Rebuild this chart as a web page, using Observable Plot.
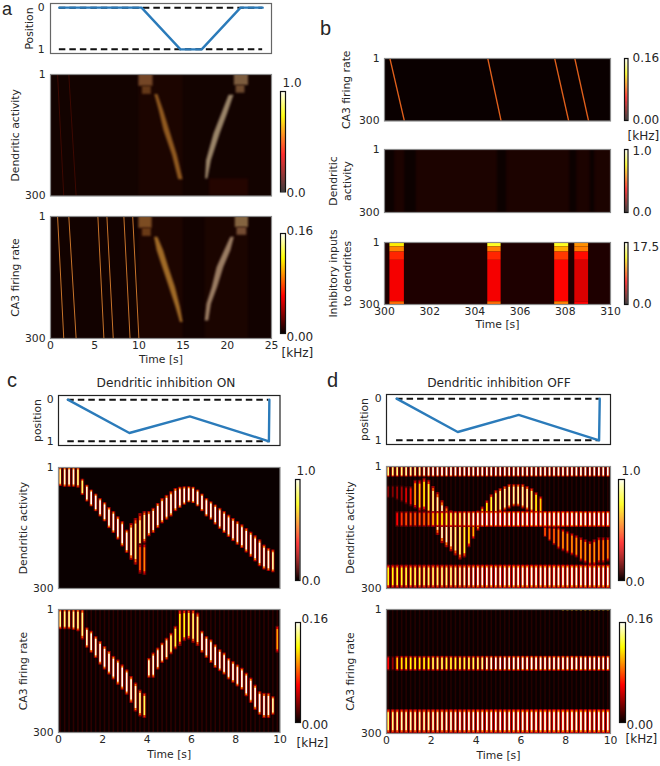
<!DOCTYPE html>
<html><head><meta charset="utf-8">
<script src="https://cdn.jsdelivr.net/npm/d3@7"></script>
<script src="https://cdn.jsdelivr.net/npm/@observablehq/plot@0.6"></script>
<style>
html,body{margin:0;padding:0;background:#fff}
#root{position:relative;width:660px;height:766px;overflow:hidden;font-family:"DejaVu Sans",sans-serif;color:#262626}
#root svg{position:absolute;background:transparent}
.heat{filter:blur(.7px)}
.soft{filter:blur(1.1px)}
.lbl{position:absolute;white-space:nowrap}
</style></head><body><div id="root"></div>
<script>
// ---------- panel a ----------
const aPosT=[1,10.3,14.7,17.1,21.5,24], aPosY=[0,0,1,1,0,0];
const aSweepT0=[0.8,2.07,5.36,6.38,8.3,9.3], aSweepT1=[1.5,2.9,6.04,7.1,9.0,10.0];
const aDescN=[52,85,126,175,224,261];
const aCa3DescL=[11.77,12.07,12.7,13.46,14.2,14.7], aCa3DescR=[12.15,12.8,13.38,14.14,14.7,15.0];
const aAscN=[257,216,175,126,85,52];
const aCa3AscL=[17.5,17.7,18.3,18.85,19.7,20.4], aCa3AscR=[17.9,18.2,18.9,19.6,20.4,20.8];
const aDenDescN=[50,90,140,200,260];
const aDenDescL=[11.8,12.3,12.85,13.8,14.5], aDenDescR=[12.15,12.8,13.5,14.35,15.0];
const aDenAscN=[258,213,147,97,52];
const aDenAscL=[17.55,17.65,18.5,19.4,20.2], aDenAscR=[17.8,18.2,19.2,20.05,20.75];
// ---------- panel b ----------
const bSweepT0=[300.24,304.57,307.53,308.42], bSweepT1=[300.88,305.16,308.15,309.03];
const bDenDimT0=[300,300.9,305,308.2,309.1], bDenDimT1=[300.45,301.4,305.4,308.5,309.3];
const inhibN0=[1,22,47,87,287], inhibN1=[22,47,87,287,300];
const inhibLevels=[[.72,.56,.42,.35,.52],[.78,.55,.42,.35,.52],[.78,.62,.45,.37,.55],[.58,.55,.38,.31,.36]];
// ---------- theta cycles, panels c and d ----------
const cycleT=[.1,.3,.5,.7,.9,1.1,1.3,1.5,1.7,1.9,2.1,2.3,2.5,2.7,2.9,3.1,3.3,3.5,3.7,3.9,4.1,4.3,4.5,4.7,4.9,5.1,5.3,5.5,5.7,5.9,6.1,6.3,6.5,6.7,6.9,7.1,7.3,7.5,7.7,7.9,8.1,8.3,8.5,8.7,8.9,9.1,9.3,9.5,9.7,9.9];
const cPosT=[.42,3.2,5.93,9.5,9.52], cPosY=[0,.8,.4,1,0];
const dPosT=[.45,3.18,5.9,9.49,9.52], dPosY=[0,.8,.39,1,0];
const cDenTop=[1,1,1,1,1,30,45,57,67,78,88,100,110,123,135,156,140,127,115,110,110,102,90,78,70,61,53,50,49,49,50,57,67,78,86,94,102,110,119,127,135,143,152,161,170,180,193,201,205,null];
const cDenBot=[48,50,50,50,52,70,86,98,110,123,135,152,164,180,197,213,230,242,262,188,172,164,152,140,131,123,110,102,94,88,90,98,110,123,131,143,154,164,174,184,193,201,212,223,234,246,254,258,261,null];
const cDenLev=[.72,.78,.8,.8,.72,.7,.8,.85,.85,.85,.85,.85,.85,.85,.85,.85,.78,.72,.72,.75,.8,.8,.85,.85,.85,.85,.88,.9,.9,.92,.92,.9,.88,.88,.85,.85,.85,.85,.85,.85,.85,.85,.85,.85,.85,.85,.85,.8,.75,0];
const cDenExtraT=[3.7,3.9], cDenExtraTop=[190,190], cDenExtraBot=[265,268], cDenExtraLev=[.42,.46];
const cCa3Top=[1,1,1,1,1,1,46,54,67,79,91,103,115,124,136,148,164,180,197,205,120,107,95,83,71,59,42,2,2,2,2,10,54,67,75,87,99,107,120,128,136,144,156,168,185,201,205,205,213,42];
const cCa3Bot=[50,50,50,52,55,75,95,107,120,136,148,160,172,185,197,209,229,250,262,266,168,168,148,132,124,111,99,91,79,75,83,91,107,120,132,144,152,160,172,180,189,197,213,229,246,258,266,266,258,107];
const cCa3Lev=[.72,.72,.74,.74,.72,.72,.78,.8,.8,.82,.82,.85,.85,.85,.82,.82,.8,.78,.72,.68,.78,.8,.8,.8,.78,.7,.66,.6,.62,.66,.7,.72,.82,.85,.85,.85,.85,.85,.85,.85,.85,.85,.85,.85,.85,.85,.82,.8,.75,.5];
const dDenTopBand=[.72,.72,.72,.72,.75,.75,.75,.75,.8,.8,.82,.82,.85,.85,.85,.85,.85,.85,.85,.85,.85,.85,.85,.85,.85,.85,.85,.85,.85,.85,.85,.85,.85,.85,.85,.85,.85,.85,.85,.85,.82,.82,.82,.82,.82,.82,.82,.82,.82,.82];
const dDenMidBand=[0,0,.3,.36,.4,.4,.4,.42,.42,.45,.55,.6,.62,.65,.68,.7,.7,.75,.75,.8,.8,.82,.85,.85,.85,.88,.88,.88,.9,.9,.9,.9,.9,.9,.9,.9,.9,.9,.9,.9,.88,.88,.88,.88,.88,.85,.85,.85,.85,.85];
const dDenLowBand=[.62,.62,.64,.64,.66,.66,.68,.68,.7,.7,.7,.7,.72,.72,.72,.74,.76,.78,.8,.82,.85,.85,.88,.88,.88,.9,.9,.9,.9,.9,.9,.9,.9,.9,.9,.9,.9,.9,.9,.9,.9,.9,.9,.9,.9,.9,.9,.9,.9,.9];
const dDenMoveTop=[48,48,48,48,50,50,35,35,30,35,50,65,85,100,110,120,130,140,125,125,110,100,85,70,60,55,50,45,45,45,45,50,55,65,75,150,150,150,150,155,160,165,170,175,180,185,180,175,175,175];
const dDenMoveBot=[80,80,85,90,95,100,105,112,110,120,150,170,190,200,210,220,230,225,200,180,160,150,140,130,125,115,110,105,100,100,105,110,115,120,125,175,185,195,205,210,215,220,225,235,240,245,245,240,240,235];
const dDenMoveLev=[.15,.15,.18,.2,.26,.32,.5,.55,.6,.65,.72,.75,.78,.78,.75,.72,.7,.65,.58,.52,.52,.55,.6,.65,.7,.72,.75,.75,.75,.75,.75,.75,.7,.62,.55,.4,.4,.42,.45,.48,.48,.48,.48,.48,.48,.48,.48,.45,.45,.45];
const dCa3MidBand=[.3,.18,.55,.58,.6,.62,.62,.6,.62,.62,.68,.7,.68,.66,.65,.65,.66,.66,.68,.68,.7,.72,.78,.8,.82,.84,.85,.87,.88,.88,.9,.9,.9,.9,.9,.9,.9,.9,.9,.9,.9,.9,.9,.9,.9,.9,.9,.9,.9,.9];
const dCa3LowBand=[.7,.72,.74,.76,.76,.76,.76,.76,.76,.76,.78,.78,.78,.8,.8,.8,.82,.82,.84,.84,.86,.86,.88,.88,.88,.88,.88,.88,.9,.9,.9,.9,.9,.9,.92,.92,.92,.92,.92,.92,.92,.92,.92,.92,.92,.92,.92,.92,.92,.92];
const dCa3DotT=[7.9,8.1,8.3,8.5,8.7,8.9,9.1,9.3,9.5,9.7,9.9];

// ---------- text and scale labels ----------
const heatStops=[0,.365,.746,1], heatColors=["#0a0000","#ff0000","#ffff00","#ffffff"];
const font='"DejaVu Sans",sans-serif', ink="#262626";
const root=document.getElementById("root");
const GL=60,GR=30,GT=6,GB=36;
const colorOpt={type:"linear",domain:heatStops,range:heatColors,interpolate:"rgb",clamp:true};

function panel(L,T,R,B,xd,yd,marks,o={}){
  const w=R-L+GL+GR,h=B-T+GT+GB;
  const svg=Plot.plot({width:w,height:h,marginLeft:GL,marginRight:GR,marginTop:GT,marginBottom:GB,
    x:{domain:xd,axis:null},y:{domain:yd,axis:null},color:colorOpt,
    style:{background:"transparent",fontFamily:font,fontSize:"10.8px",color:ink,overflow:"visible"},
    marks:[...marks,
      Plot.frame({stroke:o.frame||"#8a8a8a",strokeWidth:1.2}),
      Plot.axisY(o.yt||[1,300],{tickSize:0,tickPadding:o.tp??5,label:null}),
      o.xt?Plot.axisX(o.xt,{tickSize:0,tickPadding:o.xp??3,label:null}):null,
      ...(o.ylabel?[Plot.text([o.ylabel],{frameAnchor:"left",dx:-(o.yoff||36),rotate:-90,textAnchor:"middle",lineHeight:1.25,fill:ink})]:[]),
      ...(o.xlabel?[Plot.text([o.xlabel],{frameAnchor:"bottom",dy:o.xoff||24,textAnchor:"middle",fill:ink})]:[])
    ]});
  svg.style.left=(L-GL)+"px";svg.style.top=(T-GT)+"px";
  root.appendChild(svg);
}
const idx=a=>a.map((_,i)=>i);
function stripes(ts,tops,bots,levs,amb=0,halo=.2){
  const r=[];
  ts.forEach((t,i)=>{
    if(amb) r.push({x1:t-.035,x2:t+.035,y1:1,y2:300,v:amb});
    const l=levs[i]; if(!l||tops[i]==null) return;
    const a=tops[i],b=bots[i],h=(b-a);
    r.push({x1:t-.085,x2:t+.085,y1:a,y2:b,v:l*halo});
    r.push({x1:t-.035,x2:t+.035,y1:a,y2:b,v:l*.34});
    r.push({x1:t-.035,x2:t+.035,y1:a+h*.05,y2:b-h*.05,v:l*.7});
    r.push({x1:t-.035,x2:t+.035,y1:a+h*.12,y2:b-h*.12,v:l*1.22});
  });
  return r;
}
const cst=(n,v)=>Array.from({length:n},()=>v);
const heatRect=(rows)=>Plot.rect(rows,{x1:"x1",x2:"x2",y1:"y1",y2:"y2",fill:"v",className:"heat",clip:true});
const bg=(c)=>Plot.frame({fill:c,stroke:"none"});
function positionPanel(L,T,R,B,xmax,t,y,dash0,dash1,o){
  panel(L,T,R,B,[0,xmax],[1.1,-.1],[
    Plot.ruleY([0,1],{x1:dash0,x2:dash1,stroke:"#111",strokeWidth:2,strokeDasharray:"6.5,4"}),
    Plot.line(idx(t),{x:i=>t[i],y:i=>y[i],stroke:"#2b7bba",strokeWidth:2.4,curve:"linear"})
  ],{yt:[0,1],...o});
}
function colorbar(L,T,R,B,labels){
  const cells=d3.range(0,100).map(i=>({a:i/100,b:(i+1)/100}));
  const svg=Plot.plot({width:R-L+50,height:B-T+40,marginLeft:5,marginRight:45,marginTop:20,marginBottom:20,
    x:{domain:[0,1],axis:null},y:{domain:[0,1],axis:null},color:colorOpt,
    style:{background:"transparent",fontFamily:font,fontSize:"12px",color:ink,overflow:"visible"},
    marks:[
      Plot.rect(cells,{x1:0,x2:1,y1:"a",y2:"b",fill:d=>d.a}),
      Plot.frame({stroke:"#111",strokeWidth:1.2}),
      Plot.text(labels,{frameAnchor:"top-left",text:d=>d[0],fill:ink,textAnchor:"start",lineAnchor:"middle"})
    ]});
  svg.style.left=(L-5)+"px";svg.style.top=(T-20)+"px";
  const g=svg.querySelectorAll("text");
  g.forEach((el,i)=>{const d=labels[i];el.setAttribute("transform",`translate(${5+d[1]},${20+d[2]})`);});
  root.appendChild(svg);
}
function note(text,x,y,size,fam,anchor){
  const d=document.createElement("div");d.className="lbl";d.textContent=text;
  d.style.cssText=`left:${x}px;top:${y}px;font-size:${size}px;font-family:${fam||font};transform:translate(${anchor||"0"},-50%);line-height:1;color:${ink}`;
  root.appendChild(d);
}
// ---------- a ----------
positionPanel(50,3,271,53,25,aPosT,aPosY,1,24,{frame:"#666",ylabel:"Position",yoff:22,tp:6});
const sweeps=(t0,t1,c,w)=>Plot.link(idx(t0),{x1:i=>t0[i],x2:i=>t1[i],y1:1,y2:300,stroke:c,strokeWidth:w,className:"heat",clip:true});
const blob=(x1,x2,y1,y2,c)=>Plot.rect([0],{x1,x2,y1,y2,fill:c,className:"soft",clip:true});
const ribbon=(n,l,r,c)=>Plot.areaX(idx(n),{y:i=>n[i],x1:i=>l[i],x2:i=>r[i],fill:c,curve:"linear",className:"soft",clip:true});
panel(50,74,271,195.5,[0,25],[300,1],[
  bg("#130300"),blob(10,15,1,300,"#1c0500"),blob(18,22.4,258,300,"#240500"),
  sweeps(aSweepT0.slice(0,2),aSweepT1.slice(0,2),"#3e0900",1),
  blob(10,11.6,1,30,"#744626"),blob(10.4,11.4,30,50,"#643818"),
  ribbon(aDenDescN,aDenDescL,aDenDescR,"#90591f"),
  ribbon(aDenAscN,aDenAscL,aDenAscR,"#9a8468"),
  blob(20.8,22.4,1,28,"#7c5c3e"),blob(21,22,28,47,"#6e4a2e")
],{ylabel:"Dendritic activity",yoff:36});
panel(50,216,271,338,[0,25],[300,1],[
  bg("#120200"),blob(10,15,1,300,"#1d0500"),blob(17.5,22.4,1,300,"#1b0500"),
  sweeps(aSweepT0,aSweepT1,"#c8742a",1),
  blob(10,11.5,1,30,"#7c4c22"),blob(10.4,11.4,30,50,"#6a3a16"),
  ribbon(aDescN,aCa3DescL,aCa3DescR,"#a06a26"),
  ribbon(aAscN,aCa3AscL,aCa3AscR,"#9a7c62"),
  blob(20.9,22.4,1,28,"#846440"),blob(21.1,22.2,28,47,"#744c32")
],{ylabel:"CA3 firing rate",yoff:36,xt:[0,5,10,15,20,25],xlabel:"Time [s]"});
colorbar(279.5,90.6,284.5,191,[["1.0",2,-8],["0.0",6,102]]);
colorbar(280,233,285,333,[["0.16",6,-2],["0.00",6,104],["[kHz]",1,120]]);
// ---------- b ----------
panel(384,57.5,610,120,[300,310],[300,1],[bg("#0a0000"),sweeps(bSweepT0,bSweepT1,"#e2601c",1.3)],
  {ylabel:"CA3 firing rate",yoff:39});
panel(384,149,610,212,[300,310],[300,1],[
  bg("#1c0300"),
  Plot.rect(idx(bDenDimT0),{x1:i=>bDenDimT0[i],x2:i=>bDenDimT1[i],y1:1,y2:300,fill:"#0c0100",className:"soft",clip:true})
],{ylabel:"Dendritic\nactivity",yoff:45});
const inhibRows=bSweepT0.flatMap((t,k)=>inhibN0.map((n,j)=>({x1:t,x2:bSweepT1[k],y1:n,y2:inhibN1[j],v:inhibLevels[k][j]})));
panel(384,242,610,304,[300,310],[300,1],[bg("#1e0000"),heatRect(inhibRows)],
  {ylabel:"Inhibitory inputs\nto dendrites",yoff:45,xt:[300,302,304,306,308,310],xlabel:"Time [s]",xoff:23});
colorbar(623.5,58,627,120,[["0.16",8,0],["0.00",8,62],["[kHz]",3,78]]);
colorbar(623.5,149,627,212,[["1.0",8,2],["0.0",8,63]]);
colorbar(623.5,242,627,304,[["17.5",8,5],["0.0",8,62]]);
// ---------- c ----------
note("Dendritic inhibition ON",166,383,12.2,font,"-50%");
positionPanel(57.5,395,279,445,10,cPosT,cPosY,.42,9.5,{frame:"#222",ylabel:"position",yoff:22});
panel(57.5,467,279,588,[0,10],[300,1],[bg("#0a0000"),
  heatRect([...stripes(cycleT,cDenTop,cDenBot,cDenLev),...stripes(cDenExtraT,cDenExtraTop,cDenExtraBot,cDenExtraLev)])
],{ylabel:"Dendritic activity",yoff:36});
panel(57.5,609,279,732,[0,10],[300,1],[bg("#0a0000"),
  heatRect(stripes(cycleT,cCa3Top,cCa3Bot,cCa3Lev,.05))
],{ylabel:"CA3 firing rate",yoff:36,xt:[0,2,4,6,8,10],xlabel:"Time [s]",xoff:25});
colorbar(295,479,299.5,580,[["1.0",1,-8],["0.0",6,102]]);
colorbar(295,622,300,722,[["0.16",6,-3],["0.00",6,103],["[kHz]",1,121]]);
// ---------- d ----------
note("Dendritic inhibition OFF",499,383,12.2,font,"-50%");
positionPanel(386,394,610,444,10,dPosT,dPosY,.45,9.5,{frame:"#222",ylabel:"position",yoff:23});
const n50=cycleT.length;
panel(386,466,610,588,[0,10],[300,1],[bg("#0a0000"),heatRect([
  ...stripes(cycleT,cst(n50,1),cst(n50,27),dDenTopBand,.04,.24),
  ...stripes(cycleT,dDenMoveTop,dDenMoveBot,dDenMoveLev,0,.18),
  ...stripes(cycleT,cst(n50,112),cst(n50,150),dDenMidBand,0,.34),
  ...stripes(cycleT,cst(n50,243),cst(n50,300),dDenLowBand,0,.3)
])],{ylabel:"Dendritic activity",yoff:37});
panel(386,609,610,733,[0,10],[300,1],[bg("#0a0000"),heatRect([
  ...stripes(cycleT,cst(n50,114),cst(n50,150),dCa3MidBand,.04,.24),
  ...stripes(cycleT,cst(n50,243),cst(n50,300),dCa3LowBand,0,.32),
  ...dCa3DotT.map(t=>({x1:t-.05,x2:t+.05,y1:2,y2:4,v:.7}))
])],{ylabel:"CA3 firing rate",yoff:37,xt:[0,2,4,6,8,10],xlabel:"Time [s]",xoff:25});
colorbar(618,479,624,580,[["1.0",3,-8],["0.0",7,103]]);
colorbar(619,622,625,722,[["0.16",7,-3],["0.00",7,103],["[kHz]",6,117]]);
// ---------- panel letters ----------
const lf='"Liberation Sans",Arial,sans-serif';
note("a",2,9,18,lf);note("b",320,28,20,lf);note("c",7,380,20,lf);note("d",327,380,20,lf);
</script></body></html>
